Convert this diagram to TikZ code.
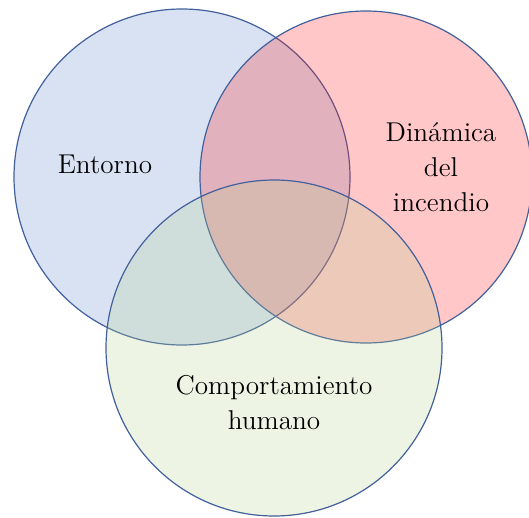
\documentclass[tikz,border=0pt]{standalone}
\definecolor{vennedge}{RGB}{66,96,156}
\definecolor{entornofill}{RGB}{103,139,207}
\definecolor{dinamicafill}{RGB}{255,31,31}
\definecolor{humanofill}{RGB}{183,211,147}
\tikzset{
  venn/.style={draw=vennedge, line width=0.6pt, fill opacity=0.25},
  label text/.style={align=center, inner sep=0pt, font=\fontsize{13.6}{17.5}\selectfont}
}
\begin{document}
\begin{tikzpicture}[x=0.5pt,y=-0.5pt]

        \useasboundingbox (0,0) rectangle (529,518);

        % circles
        \path[venn, fill=entornofill]  (182,177) circle (168);
        \path[venn, fill=dinamicafill] (366,177) circle (166);
        \path[venn, fill=humanofill]   (274,348) circle (168);

        \begin{scope}[every node/.style={label text}]
          \node (entorno) at (105,164) {Entorno};
          \node (dinamica) at (441,167) {Dinámica\\del\\incendio};
          \node (humano) at (274,403) {Comportamiento\\humano};
        \end{scope}

      \end{tikzpicture}
\end{document}
